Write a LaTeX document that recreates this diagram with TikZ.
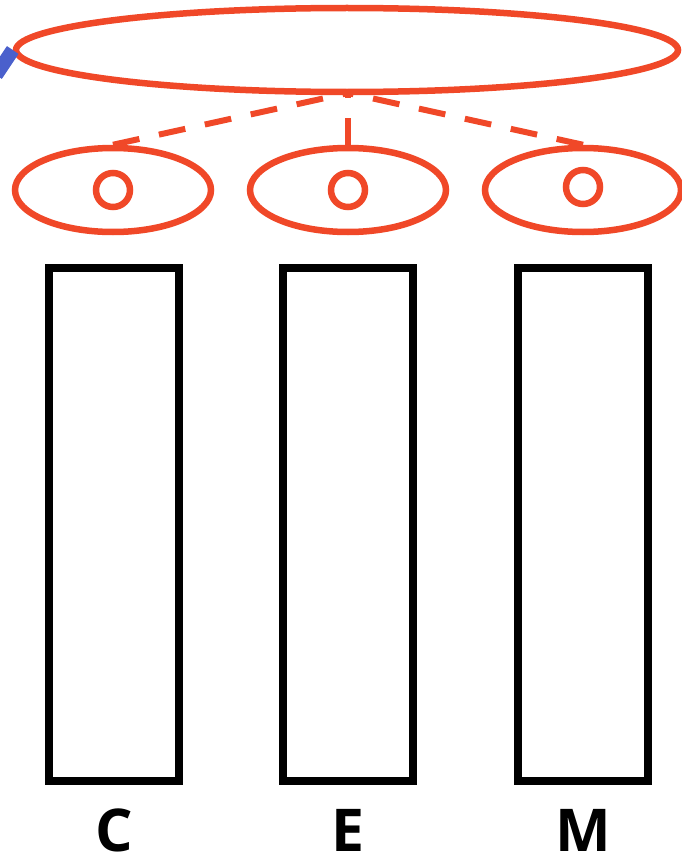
\documentclass[tikz,border=0pt]{standalone}
\usepackage{fontspec}
\setmainfont{Open Sans}
\usetikzlibrary{shapes.geometric,positioning}
\definecolor{treered}{RGB}{240,72,40}
\definecolor{linkblue}{RGB}{74,96,204}
\tikzset{
    big-ellipse/.style = {draw=treered, ellipse, line width=6.5pt, inner sep=0pt, minimum width=662pt, minimum height=84pt},
    small-ellipse/.style = {draw=treered, ellipse, line width=6.5pt, inner sep=0pt, minimum width=196pt, minimum height=84pt},
    eye-dot/.style = {draw=treered, circle, line width=6.5pt, inner sep=0pt, minimum size=34pt},
    link-line/.style = {draw=treered, line width=6pt, dash pattern=on 27pt off 20pt},
    bar-box/.style = {draw=black, rectangle, line width=7.5pt, inner sep=0pt, minimum width=130pt, minimum height=513pt},
    bar-label/.style = {inner sep=0pt, font=\fontsize{59}{59}\selectfont\bfseries},
}

\begin{document}
\begin{tikzpicture}[x=1pt, y=-1pt]
\useasboundingbox (0,0) rectangle (682,859);
\node [big-ellipse] (root) at (347,50) {};
\node [small-ellipse] (left) at (113,190) {};
\node [small-ellipse] (mid) at (348,190) {};
\node [small-ellipse] (right) at (583,190) {};
\node [eye-dot] at (113,190) {};
\node [eye-dot] at (348,190) {};
\node [eye-dot] at (583,187) {};
% links to the root
\draw [link-line] (left.north) -- (348,93);
\draw [link-line] (mid.north) -- (348,93);
\draw [link-line] (right.north) -- (348,93);
\coordinate (incoming) at (-4,75);
\draw [linkblue, line width=14pt] (incoming) -- (root.west);
% bars
\node [bar-box] (barC) at (114,524.5) {};
\node [bar-box] (barE) at (348,524.5) {};
\node [bar-box] (barM) at (583,524.5) {};
\node [bar-label, below=24pt of barC] {C};
\node [bar-label, below=24pt of barE] {E};
\node [bar-label, below=24pt of barM] {M};
\end{tikzpicture}
\end{document}
